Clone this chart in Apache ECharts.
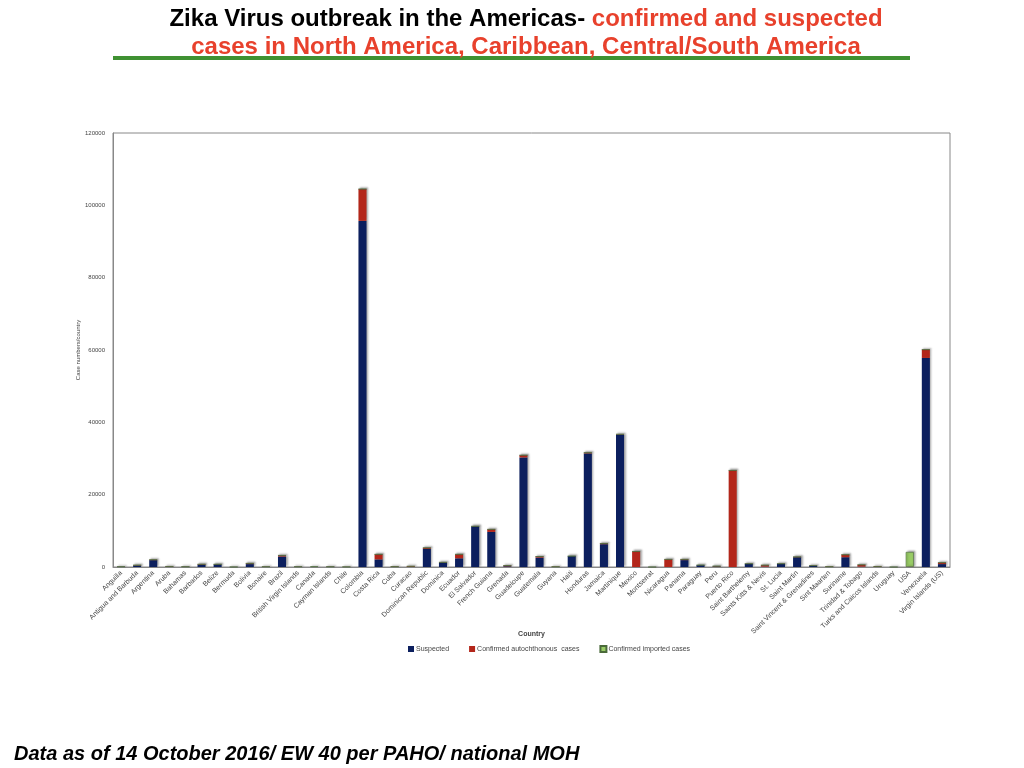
<!DOCTYPE html>
<html>
<head>
<meta charset="utf-8">
<script src="https://cdn.jsdelivr.net/npm/echarts@6/dist/echarts.min.js"></script>
<style>
  html, body { margin: 0; padding: 0; background: #fff; }
  #panel { width: 1024px; height: 768px; }
</style>
</head>
<body>
<div id="panel"></div>
<script>
var countries = ['Anguilla', 'Antigua and Barbuda', 'Argentina', 'Aruba', 'Bahamas', 'Barbados', 'Belize',
    'Bermuda', 'Bolivia', 'Bonaire', 'Brazil', 'British Virgin Islands', 'Canada', 'Cayman Islands', 'Chile',
    'Colombia', 'Costa Rica', 'Cuba', 'Curacao', 'Dominican Republic', 'Dominica', 'Ecuador', 'El Salvador',
    'French Guiana', 'Grenada', 'Guadeloupe', 'Guatemala', 'Guyana', 'Haiti', 'Honduras', 'Jamaica',
    'Martinique', 'Mexico', 'Montserrat', 'Nicaragua', 'Panama', 'Paraguay', 'Peru', 'Puerto Rico',
    'Saint Barthelemy', 'Saints Kitts & Nevis', 'St. Lucia', 'Saint Martin', 'Saint Vincent & Grenadines',
    'Sint Maarten', 'Suriname', 'Trinidad & Tobago', 'Turks and Caicos Islands', 'Uruguay', 'USA',
    'Venezuela', 'Virgin Islands (US)'];

var suspected = [50, 400, 1900, 50, 30, 600, 700,
    0, 800, 20, 2900, 30, 0, 30, 0,
    95700, 2100, 0, 0, 5000, 1200, 2400, 11200,
    9700, 200, 30300, 2600, 0, 3000, 31400, 6300,
    36600, 0, 0, 0, 1900, 500, 150, 0,
    850, 100, 850, 2700, 300,
    0, 2700, 100, 0, 0, 0,
    57800, 800];

var confirmedAuto = [30, 100, 100, 100, 50, 150, 50,
    10, 200, 60, 300, 50, 0, 50, 30,
    8800, 1400, 100, 200, 300, 80, 1100, 50,
    700, 200, 600, 300, 80, 5, 200, 200,
    100, 4300, 0, 2100, 200, 20, 100, 26700,
    50, 400, 50, 100, 80,
    100, 700, 500, 150, 0, 50,
    2300, 400];

var confirmedImported = [0, 0, 30, 0, 0, 0, 0,
    10, 0, 0, 0, 0, 200, 0, 20,
    0, 0, 0, 0, 0, 0, 0, 0,
    0, 0, 0, 0, 0, 0, 0, 0,
    0, 0, 0, 0, 0, 0, 0, 0,
    0, 0, 0, 0, 0,
    0, 0, 0, 0, 0, 4100,
    0, 0];

var yMax = 120000;
var yStep = 20000;

var barShadow = {
    shadowColor: 'rgba(0,0,0,0.35)',
    shadowBlur: 2,
    shadowOffsetX: 1.5,
    shadowOffsetY: -1
};

var smallFont = 'Liberation Sans, Arial, sans-serif';

var myChart = echarts.init(document.getElementById('panel'));
myChart.setOption({
    backgroundColor: '#ffffff',
    animation: false,
    title: [{
        text: '{k|Zika Virus outbreak in the Americas- }{r|confirmed and suspected}\n{r|cases in North America, Caribbean, Central/South America}',
        left: 521,
        top: 0,
        textAlign: 'center',
        textStyle: {
            rich: {
                k: { fontFamily: 'Liberation Sans Narrow, Arial Narrow, Liberation Sans, sans-serif', fontWeight: 'bold', fontSize: 24, color: '#000000', lineHeight: 28 },
                r: { fontFamily: 'Liberation Sans Narrow, Arial Narrow, Liberation Sans, sans-serif', fontWeight: 'bold', fontSize: 24, color: '#E8412C', lineHeight: 28 }
            }
        }
    }, {
        text: 'Data as of 14 October 2016/ EW 40 per PAHO/ national MOH',
        left: 9,
        top: 739,
        textStyle: {
            fontFamily: smallFont,
            fontStyle: 'italic',
            fontWeight: 'bold',
            fontSize: 20,
            color: '#000000'
        }
    }],
    graphic: [{
        type: 'rect',
        shape: { x: 113, y: 56, width: 797, height: 4 },
        style: { fill: '#3F9132' }
    }],
    legend: {
        left: 403,
        top: 640,
        itemWidth: 6,
        itemHeight: 6,
        itemGap: 20,
        icon: 'rect',
        textStyle: { fontSize: 7, color: '#444', fontFamily: smallFont, padding: [0, 0, 0, -3] },
        data: ['Suspected', 'Confirmed autochthonous  cases', 'Confirmed imported cases']
    },
    grid: {
        left: 113,
        right: 74,
        top: 133,
        bottom: 201,
        show: true,
        borderColor: '#888',
        borderWidth: 1
    },
    xAxis: {
        type: 'category',
        data: countries,
        name: 'Country',
        nameLocation: 'middle',
        nameGap: 64,
        nameMoveOverlap: false,
        nameTextStyle: { fontSize: 7, fontWeight: 'bold', color: '#444', fontFamily: smallFont },
        axisLine: { lineStyle: { color: '#888', width: 1 } },
        axisTick: { show: false },
        axisLabel: {
            interval: 0,
            rotate: 45,
            fontSize: 7,
            color: '#444',
            margin: 5,
            fontFamily: smallFont
        }
    },
    yAxis: {
        type: 'value',
        min: 0,
        max: yMax,
        interval: yStep,
        name: 'Case numbers/country',
        nameLocation: 'middle',
        nameGap: 32,
        nameMoveOverlap: false,
        nameTextStyle: { fontSize: 6, color: '#444', fontFamily: smallFont },
        axisLine: { show: true, lineStyle: { color: '#888', width: 1 } },
        axisTick: { show: false },
        splitLine: { show: false },
        axisLabel: {
            fontSize: 6,
            color: '#444',
            margin: 8,
            fontFamily: smallFont,
            formatter: function (v) { return String(v); }
        }
    },
    series: [{
        name: 'Suspected',
        type: 'bar',
        stack: 'cases',
        barWidth: '50%',
        data: suspected,
        itemStyle: Object.assign({ color: '#0C1F5E' }, barShadow)
    }, {
        name: 'Confirmed autochthonous  cases',
        type: 'bar',
        stack: 'cases',
        data: confirmedAuto,
        itemStyle: Object.assign({ color: '#B3261A' }, barShadow)
    }, {
        name: 'Confirmed imported cases',
        type: 'bar',
        stack: 'cases',
        data: confirmedImported,
        itemStyle: Object.assign({ color: '#99CC66', borderColor: '#4A6A3A', borderWidth: 0.6 }, barShadow)
    }]
});
</script>
</body>
</html>
